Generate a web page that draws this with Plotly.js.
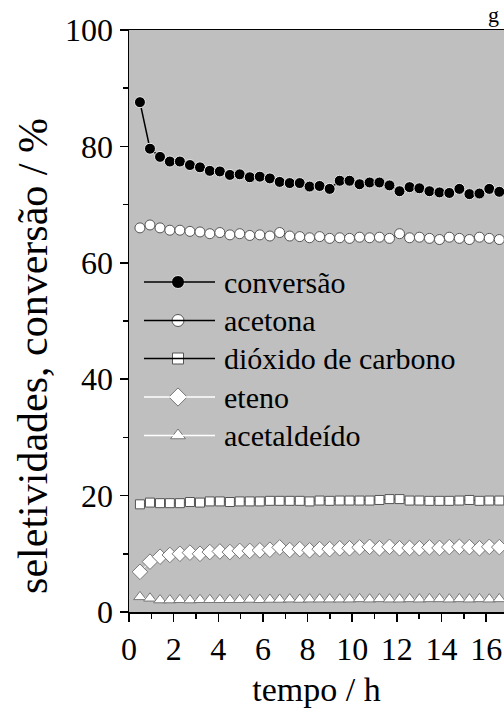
<!DOCTYPE html>
<html>
<head>
<meta charset="utf-8">
<script src="https://cdn.plot.ly/plotly-3.0.1.min.js"></script>
<style>html,body{margin:0;padding:0;background:#fff;}#chart{width:504px;height:708px;}</style>
</head>
<body>
<div id="chart"></div>
<script>
// time (h)
const tempo = [0.49, 0.94, 1.39, 1.83, 2.28, 2.73, 3.18, 3.62, 4.07, 4.52, 4.96, 5.41, 5.86, 6.31, 6.75, 7.2, 7.65, 8.09, 8.54, 8.99, 9.44, 9.88, 10.33, 10.78, 11.22, 11.67, 12.12, 12.57, 13.01, 13.46, 13.91, 14.35, 14.8, 15.25, 15.7, 16.14, 16.59];
const conversao = [87.6, 79.6, 78.2, 77.4, 77.4, 76.8, 76.4, 75.8, 75.7, 75.1, 75.2, 74.7, 74.8, 74.5, 73.9, 73.7, 73.7, 73.1, 73.2, 72.7, 74.1, 74.1, 73.5, 73.8, 73.8, 73.3, 72.3, 73.0, 72.8, 72.3, 72.1, 72.0, 72.7, 71.8, 71.9, 72.7, 72.2];
const acetona = [66.0, 66.5, 66.0, 65.6, 65.6, 65.4, 65.3, 65.0, 65.2, 64.8, 65.0, 64.7, 64.8, 64.6, 65.2, 64.6, 64.5, 64.3, 64.5, 64.2, 64.3, 64.2, 64.4, 64.3, 64.4, 64.2, 65.0, 64.3, 64.4, 64.2, 64.0, 64.4, 64.2, 64.0, 64.4, 64.2, 64.0];
const dioxido = [18.5, 18.8, 18.7, 18.7, 18.7, 18.9, 18.8, 19.0, 19.0, 18.9, 19.0, 19.0, 19.0, 19.1, 19.1, 19.1, 19.1, 19.0, 19.15, 19.1, 19.15, 19.15, 19.15, 19.15, 19.25, 19.4, 19.4, 19.15, 19.15, 19.1, 19.1, 19.1, 19.15, 19.25, 19.1, 19.15, 19.15];
const eteno = [6.9, 8.65, 9.5, 9.8, 10.0, 10.2, 10.0, 10.3, 10.4, 10.3, 10.5, 10.5, 10.6, 10.7, 11.1, 10.65, 10.8, 10.6, 10.8, 10.8, 10.95, 10.95, 11.1, 11.2, 10.95, 11.2, 10.95, 11.0, 10.95, 11.1, 11.0, 11.15, 11.2, 11.15, 10.95, 11.2, 11.15];
const acetaldeido = [2.6, 2.35, 2.05, 2.05, 2.1, 2.05, 2.1, 2.1, 2.1, 2.1, 2.1, 2.15, 2.1, 2.15, 2.15, 2.2, 2.15, 2.2, 2.2, 2.2, 2.2, 2.2, 2.25, 2.2, 2.25, 2.2, 2.2, 2.25, 2.2, 2.25, 2.25, 2.2, 2.25, 2.2, 2.25, 2.2, 2.25];

const seriesNames = ['conversão', 'acetona', 'dióxido de carbono', 'eteno', 'acetaldeído'];
const seriesData = [conversao, acetona, dioxido, eteno, acetaldeido];
const xTickVals = [0, 2, 4, 6, 8, 10, 12, 14, 16];
const yTickVals = [0, 20, 40, 60, 80, 100];

const FONT = 'Liberation Serif, Times New Roman, serif';
const styles = [
  {symbol: 'circle', size: 11, fill: '#000000', edge: '#e8e8e8', ew: 1, lc: '#000000', lw: 1.5},
  {symbol: 'circle', size: 10, fill: '#ffffff', edge: '#555555', ew: 1, lc: '#000000', lw: 1},
  {symbol: 'square', size: 9, fill: '#ffffff', edge: '#555555', ew: 1, lc: '#000000', lw: 1},
  {symbol: 'diamond', size: 12, fill: '#ffffff', edge: '#777777', ew: 1, lc: '#ffffff', lw: 1},
  {symbol: 'triangle-up', size: 11, fill: '#ffffff', edge: '#777777', ew: 1, lc: '#ffffff', lw: 1}
];

const traces = [];
seriesData.forEach((d, i) => {
  const s = styles[i];
  traces.push({
    x: tempo, y: d, name: seriesNames[i], type: 'scatter', mode: 'lines+markers',
    line: {color: s.lc, width: s.lw},
    marker: {symbol: s.symbol, size: s.size, color: s.fill, line: {color: s.edge, width: s.ew}},
    showlegend: false, cliponaxis: true
  });
});

// manual legend (pixel-like overlay axes)
const legX0 = 144, legX1 = 215, legXm = 178, legTextX = 222;
const legY = [282, 320.5, 358.5, 397, 435.5];
const shapes = [];
const annotations = [];
seriesNames.forEach((n, i) => {
  const s = styles[i];
  shapes.push({type: 'line', xref: 'x2', yref: 'y2', x0: legX0, x1: legX1, y0: legY[i], y1: legY[i],
    line: {color: s.lc, width: 1.5}, layer: 'above'});
  traces.push({
    x: [legXm], y: [legY[i]], xaxis: 'x2', yaxis: 'y2', type: 'scatter', mode: 'markers',
    marker: {symbol: s.symbol, size: s.size + 2, color: s.fill, line: {color: s.edge, width: s.ew}},
    showlegend: false, hoverinfo: 'skip'
  });
  annotations.push({xref: 'x2', yref: 'y2', x: legTextX, y: legY[i], text: n, showarrow: false,
    xanchor: 'left', yanchor: 'middle', font: {family: FONT, size: 30, color: '#000'}});
});

annotations.push({xref: 'paper', yref: 'paper', x: -0.256, y: 0.44, text: 'seletividades, conversão / %',
  textangle: -90, showarrow: false, xanchor: 'center', yanchor: 'middle',
  font: {family: FONT, size: 42, color: '#000'}});

// fragment of cropped text at the top right
annotations.push({xref: 'paper', yref: 'paper', x: (493 - 129) / 375, y: (612 - 1) / 582, text: 'g',
  showarrow: false, xanchor: 'center', yanchor: 'top', borderpad: 0,
  font: {family: FONT, size: 22, color: '#000'}});

const layout = {
  width: 504, height: 708,
  margin: {l: 129, r: 0, t: 30, b: 96, pad: 0},
  paper_bgcolor: '#ffffff', plot_bgcolor: '#bfbfbf',
  font: {family: FONT, color: '#000'},
  showlegend: false,
  xaxis: {
    range: [0, 16.8], tickvals: xTickVals, ticktext: xTickVals.map(String),
    ticks: 'outside', ticklen: 8, tickwidth: 1.5, tickcolor: '#000',
    minor: {dtick: 1, ticks: 'outside', ticklen: 5, tickwidth: 1.5, tickcolor: '#000', showgrid: false},
    showline: true, linecolor: '#000', linewidth: 1.5, mirror: true,
    showgrid: false, zeroline: false,
    tickfont: {family: FONT, size: 32, color: '#000'},
    title: {text: 'tempo / h', font: {family: FONT, size: 34, color: '#000'}, standoff: 30}
  },
  yaxis: {
    range: [0, 100], tickvals: yTickVals, ticktext: yTickVals.map(String),
    ticks: 'outside', ticklen: 8, tickwidth: 1.5, tickcolor: '#000',
    minor: {dtick: 10, ticks: 'outside', ticklen: 5, tickwidth: 1.5, tickcolor: '#000', showgrid: false},
    showline: true, linecolor: '#000', linewidth: 1.5, mirror: false,
    showgrid: false, zeroline: false,
    tickfont: {family: FONT, size: 32, color: '#000'}
  },
  xaxis2: {overlaying: 'x', anchor: 'y2', range: [129, 504], visible: false, fixedrange: true},
  yaxis2: {overlaying: 'y', anchor: 'x2', range: [612, 30], visible: false, fixedrange: true},
  shapes: shapes,
  annotations: annotations
};

Plotly.newPlot('chart', traces, layout, {displayModeBar: false, staticPlot: true});
</script>
</body>
</html>
